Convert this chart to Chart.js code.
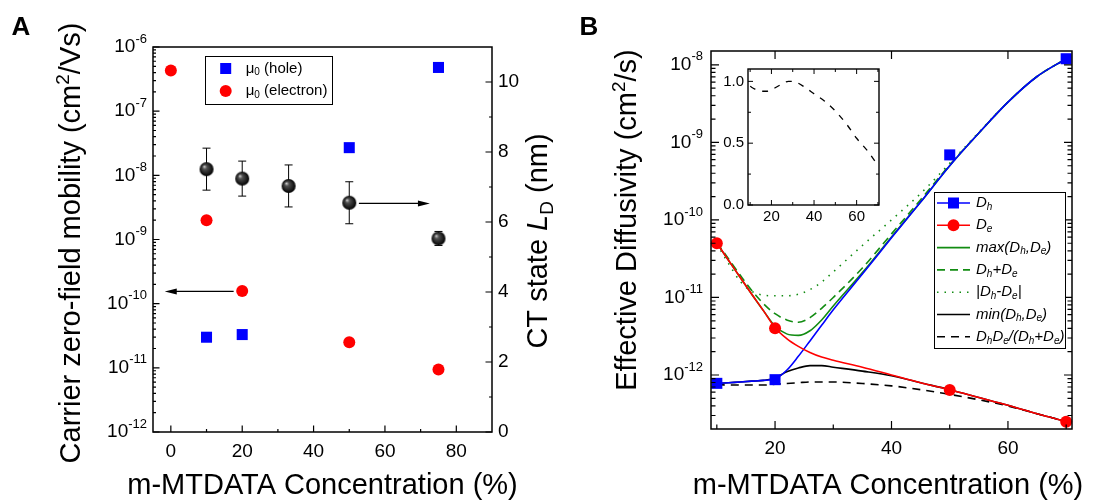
<!DOCTYPE html>
<html>
<head>
<meta charset="utf-8">
<script src="https://cdn.jsdelivr.net/npm/chart.js"></script>
<style>
  body { margin: 0; background: #fff; }
  #wrap { position: relative; width: 1098px; height: 500px; }
  canvas { position: absolute; }
</style>
</head>
<body>
<div id="wrap">
  <canvas id="chartA" width="580" height="500" style="left:0;top:0"></canvas>
  <canvas id="chartB" width="549" height="500" style="left:549px;top:0"></canvas>
  <canvas id="inset" width="220" height="185" style="left:690px;top:58px"></canvas>
</div>
<script>
// panel A: zero-field mobilities (left axis) and CT state size (right axis)
const concHole = [10, 20, 50, 75];
const muHole = [3.0e-11, 3.3e-11, 2.7e-8, 4.8e-7];
const concElec = [0, 10, 20, 50, 75];
const muElec = [4.3e-7, 2.0e-9, 1.58e-10, 2.5e-11, 9.4e-12];
const concLD = [10, 20, 33, 50, 75];
const ctSize = [7.51, 7.24, 7.03, 6.55, 5.53];
const ctErr = [0.6, 0.5, 0.6, 0.6, 0.2];

// panel B: measured diffusivities and the curves built from them
const concMeas = [10, 20, 50, 70];
const dHole = [7.8e-13, 8.7e-13, 6.9e-10, 1.2e-8];
const dElec = [5.0e-11, 4.0e-12, 6.4e-13, 2.5e-13];
const concFit = [10, 12, 14, 16, 18, 20, 22, 24, 26, 28, 30, 35, 40, 45, 50, 55, 60, 65, 70];
const fitHole = [7.76e-13, 7.94e-13, 8.13e-13, 8.32e-13, 8.51e-13, 8.91e-13, 1.15e-12, 1.74e-12, 2.75e-12, 4.37e-12,
  6.92e-12, 2.00e-11, 5.89e-11, 1.70e-10, 5.01e-10, 1.32e-9, 3.31e-9, 7.08e-9, 1.20e-8];
const fitElec = [5.01e-11, 3.02e-11, 1.82e-11, 1.10e-11, 6.76e-12, 4.07e-12, 2.95e-12, 2.34e-12, 1.95e-12, 1.70e-12,
  1.55e-12, 1.26e-12, 1.00e-12, 7.94e-13, 6.46e-13, 5.13e-13, 4.07e-13, 3.16e-13, 2.51e-13];
const fitMax = [5.01e-11, 3.02e-11, 1.82e-11, 1.10e-11, 6.76e-12, 4.27e-12, 3.39e-12, 3.24e-12, 3.72e-12, 5.13e-12,
  7.76e-12, 2.09e-11, 6.03e-11, 1.70e-10, 5.01e-10, 1.32e-9, 3.31e-9, 7.08e-9, 1.20e-8];
const fitSum = [5.13e-11, 3.16e-11, 1.95e-11, 1.23e-11, 8.32e-12, 6.17e-12, 5.13e-12, 4.79e-12, 5.50e-12, 7.24e-12,
  1.00e-11, 2.40e-11, 6.61e-11, 1.82e-10, 5.13e-10, 1.32e-9, 3.31e-9, 7.08e-9, 1.20e-8];
const fitDiff = [4.90e-11, 2.75e-11, 1.62e-11, 1.20e-11, 1.07e-11, 1.05e-11, 1.05e-11, 1.10e-11, 1.26e-11, 1.58e-11,
  2.14e-11, 4.68e-11, 1.00e-10, 2.19e-10, 5.37e-10, 1.35e-9, 3.31e-9, 7.08e-9, 1.20e-8];
const fitMin = [7.76e-13, 7.94e-13, 8.13e-13, 8.32e-13, 8.51e-13, 9.12e-13, 1.10e-12, 1.23e-12, 1.32e-12, 1.32e-12,
  1.26e-12, 1.12e-12, 9.77e-13, 7.94e-13, 6.46e-13, 5.13e-13, 4.07e-13, 3.16e-13, 2.51e-13];
const fitHarm = [7.59e-13, 7.41e-13, 7.41e-13, 7.41e-13, 7.41e-13, 7.59e-13, 7.76e-13, 7.94e-13, 8.13e-13, 8.13e-13,
  8.13e-13, 7.76e-13, 7.24e-13, 6.46e-13, 5.62e-13, 4.79e-13, 3.98e-13, 3.16e-13, 2.51e-13];

// inset: harmonic combination relative to the slower carrier
const concRatio = [10, 12, 14, 16, 18, 20, 22, 24, 26, 28, 30, 32, 35, 40, 45, 50, 55, 60, 65, 70];
const ratio = [0.96, 0.94, 0.93, 0.92, 0.92, 0.93, 0.95, 0.97, 0.99, 1.0, 1.0, 0.99, 0.96, 0.9, 0.84, 0.76, 0.66, 0.54, 0.44, 0.32];

const FONT = "'Liberation Sans', Arial, sans-serif";
const GREEN = '#128c12';

function font(size, italic, bold) {
  return (italic ? 'italic ' : '') + (bold ? 'bold ' : '') + size + 'px ' + FONT;
}

// runs: [text, size, italic, shift]
function drawRuns(ctx, runs, x, y, align, rot, baseline) {
  ctx.save();
  ctx.translate(x, y);
  if (rot) ctx.rotate(rot);
  ctx.textAlign = 'left';
  ctx.textBaseline = baseline || 'alphabetic';
  ctx.fillStyle = '#000';
  let w = 0;
  for (const r of runs) { ctx.font = font(r[1], r[2]); w += ctx.measureText(r[0]).width; }
  let cx = align === 'center' ? -w / 2 : align === 'right' ? -w : 0;
  for (const r of runs) {
    ctx.font = font(r[1], r[2]);
    ctx.fillText(r[0], cx, r[3] || 0);
    cx += ctx.measureText(r[0]).width;
  }
  ctx.restore();
}

function ticks(ctx, a, side, pixels, len) {
  ctx.beginPath();
  for (const p of pixels) {
    if (side === 'left') { ctx.moveTo(a.left, p); ctx.lineTo(a.left + len, p); }
    else if (side === 'right') { ctx.moveTo(a.right, p); ctx.lineTo(a.right - len, p); }
    else if (side === 'bottom') { ctx.moveTo(p, a.bottom); ctx.lineTo(p, a.bottom - len); }
    else { ctx.moveTo(p, a.top); ctx.lineTo(p, a.top + len); }
  }
  ctx.stroke();
}

function logMinors(lo, hi) {
  const out = [];
  for (let k = Math.floor(Math.log10(lo)); k <= Math.ceil(Math.log10(hi)); k++) {
    for (let m = 2; m <= 9; m++) {
      const v = m * Math.pow(10, k);
      if (v > lo && v < hi) out.push(v);
    }
  }
  return out;
}

function arrow(ctx, x1, y1, x2, y2) {
  const ang = Math.atan2(y2 - y1, x2 - x1);
  ctx.beginPath();
  ctx.moveTo(x1, y1);
  ctx.lineTo(x2 - 8 * Math.cos(ang), y2 - 8 * Math.sin(ang));
  ctx.stroke();
  ctx.save();
  ctx.translate(x2, y2);
  ctx.rotate(ang);
  ctx.beginPath();
  ctx.moveTo(0, 0);
  ctx.lineTo(-12, -3);
  ctx.lineTo(-12, 3);
  ctx.closePath();
  ctx.fill();
  ctx.restore();
}

function pts(xs, ys) {
  return xs.map((x, i) => ({ x: x, y: ys[i] }));
}

function makeSphere(r) {
  const c = document.createElement('canvas');
  c.width = c.height = 2 * r + 2;
  const g = c.getContext('2d');
  const m = r + 1;
  const grad = g.createRadialGradient(m - r * 0.35, m - r * 0.4, 0, m, m, r);
  grad.addColorStop(0, '#e0e0e0');
  grad.addColorStop(0.3, '#505050');
  grad.addColorStop(1, '#000');
  g.fillStyle = grad;
  g.beginPath();
  g.arc(m, m, r, 0, 2 * Math.PI);
  g.fill();
  return c;
}

const panelA = {
  id: 'panelA',
  beforeDatasetsDraw(chart) {
    const { ctx, scales: { x, y2 } } = chart;
    ctx.save();
    ctx.strokeStyle = '#000';
    ctx.lineWidth = 1;
    concLD.forEach((c, i) => {
      const px = x.getPixelForValue(c);
      const top = y2.getPixelForValue(ctSize[i] + ctErr[i]);
      const bot = y2.getPixelForValue(ctSize[i] - ctErr[i]);
      ctx.beginPath();
      ctx.moveTo(px, top); ctx.lineTo(px, bot);
      ctx.moveTo(px - 4, top); ctx.lineTo(px + 4, top);
      ctx.moveTo(px - 4, bot); ctx.lineTo(px + 4, bot);
      ctx.stroke();
    });
    ctx.restore();
  },
  afterDraw(chart) {
    const { ctx, chartArea: a, scales: { x, y, y2 } } = chart;
    ctx.save();
    ctx.strokeStyle = '#000';
    ctx.fillStyle = '#000';

    // arrows pointing to the axis each set belongs to
    ctx.lineWidth = 1.2;
    arrow(ctx, x.getPixelForValue(17.6), y.getPixelForValue(1.55e-10), x.getPixelForValue(-1.7), y.getPixelForValue(1.55e-10));
    arrow(ctx, x.getPixelForValue(52.7), y2.getPixelForValue(6.53), x.getPixelForValue(72.6), y2.getPixelForValue(6.53));

    ctx.lineWidth = 1.5;
    ctx.strokeRect(a.left, a.top, a.right - a.left, a.bottom - a.top);

    ctx.lineWidth = 1.2;
    const decades = [-12, -11, -10, -9, -8, -7, -6];
    ticks(ctx, a, 'left', decades.map(k => y.getPixelForValue(Math.pow(10, k))), 6.5);
    ticks(ctx, a, 'left', logMinors(1e-12, 1e-6).map(v => y.getPixelForValue(v)), 3);
    ticks(ctx, a, 'right', [0, 2, 4, 6, 8, 10].map(v => y2.getPixelForValue(v)), 6.5);
    ticks(ctx, a, 'right', [1, 3, 5, 7, 9].map(v => y2.getPixelForValue(v)), 3);
    ticks(ctx, a, 'bottom', [0, 20, 40, 60, 80].map(v => x.getPixelForValue(v)), 6.5);
    ticks(ctx, a, 'bottom', [10, 30, 50, 70].map(v => x.getPixelForValue(v)), 3);

    decades.forEach(k => {
      drawRuns(ctx, [['10', 19], ['-' + (-k), 13, false, -8]], a.left - 6, y.getPixelForValue(Math.pow(10, k)), 'right', 0, 'middle');
    });
    [0, 2, 4, 6, 8, 10].forEach(v => {
      drawRuns(ctx, [[String(v), 19]], a.right + 6, y2.getPixelForValue(v), 'left', 0, 'middle');
    });
    [0, 20, 40, 60, 80].forEach(v => {
      drawRuns(ctx, [[String(v), 19]], x.getPixelForValue(v), a.bottom + 25, 'center');
    });

    // axis titles
    drawRuns(ctx, [['Carrier zero-field mobility (cm', 29], ['2', 19, false, -11], ['/Vs)', 29]], 80, 243, 'center', -Math.PI / 2);
    drawRuns(ctx, [['CT state ', 29], ['L', 29, true], ['D', 19, false, 6], [' (nm)', 29]], 547, 241, 'center', -Math.PI / 2);
    drawRuns(ctx, [['m-MTDATA Concentration (%)', 29]], (a.left + a.right) / 2, 494, 'center');

    ctx.font = font(26, false, true);
    ctx.textAlign = 'center';
    ctx.textBaseline = 'alphabetic';
    ctx.fillText('A', 21, 35);

    // legend
    ctx.lineWidth = 1;
    ctx.strokeRect(205.5, 56.5, 127, 48);
    ctx.fillStyle = '#0000ff';
    ctx.fillRect(220.2, 63, 11, 11);
    ctx.fillStyle = '#ff0000';
    ctx.beginPath();
    ctx.arc(225.7, 91, 6, 0, 2 * Math.PI);
    ctx.fill();
    drawRuns(ctx, [['\u03bc', 15], ['0', 10, false, 4], [' (hole)', 15]], 245.7, 68.5, 'left', 0, 'middle');
    drawRuns(ctx, [['\u03bc', 15], ['0', 10, false, 4], [' (electron)', 15]], 245.7, 91, 'left', 0, 'middle');
    ctx.restore();
  }
};

new Chart(document.getElementById('chartA'), {
  type: 'scatter',
  data: {
    datasets: [
      { label: 'hole', data: pts(concHole, muHole), yAxisID: 'y', pointStyle: 'rect', pointRadius: 7.8,
        backgroundColor: '#0000ff', borderWidth: 0 },
      { label: 'electron', data: pts(concElec, muElec), yAxisID: 'y', pointStyle: 'circle', pointRadius: 6,
        backgroundColor: '#ff0000', borderWidth: 0 },
      { label: 'CT state', data: pts(concLD, ctSize), yAxisID: 'y2', pointStyle: makeSphere(7), pointRadius: 7 }
    ]
  },
  options: {
    responsive: false,
    animation: false,
    layout: { padding: { left: 153, top: 47, right: 88, bottom: 68 } },
    plugins: { legend: { display: false }, tooltip: { enabled: false } },
    scales: {
      x: { type: 'linear', min: -5, max: 90, display: false },
      y: { type: 'logarithmic', min: 1e-12, max: 1e-6, display: false },
      y2: { type: 'linear', position: 'right', min: 0, max: 11, display: false }
    }
  },
  plugins: [panelA]
});

const legendB = [
  { runs: [['D', 15, true], ['h', 10, true, 4]], color: '#0000ff', dash: [], marker: 'rect' },
  { runs: [['D', 15, true], ['e', 10, true, 4]], color: '#ff0000', dash: [], marker: 'circle' },
  { runs: [['max(D', 15, true], ['h', 10, true, 4], [',D', 15, true], ['e', 10, true, 4], [')', 15, true]], color: GREEN, dash: [] },
  { runs: [['D', 15, true], ['h', 10, true, 4], ['+D', 15, true], ['e', 10, true, 4]], color: GREEN, dash: [8, 5] },
  { runs: [['|D', 15, true], ['h', 10, true, 4], ['-D', 15, true], ['e', 10, true, 4], ['|', 15, true]], color: GREEN, dash: [1.5, 6] },
  { runs: [['min(D', 15, true], ['h', 10, true, 4], [',D', 15, true], ['e', 10, true, 4], [')', 15, true]], color: '#000', dash: [] },
  { runs: [['D', 15, true], ['h', 10, true, 4], ['D', 15, true], ['e', 10, true, 4], ['/(D', 15, true], ['h', 10, true, 4],
    ['+D', 15, true], ['e', 10, true, 4], [')', 15, true]], color: '#000', dash: [8, 6] }
];

const panelB = {
  id: 'panelB',
  afterDraw(chart) {
    const { ctx, chartArea: a, scales: { x, y } } = chart;
    ctx.save();
    ctx.strokeStyle = '#000';
    ctx.fillStyle = '#000';
    ctx.lineWidth = 1.5;
    ctx.strokeRect(a.left, a.top, a.right - a.left, a.bottom - a.top);

    ctx.lineWidth = 1.2;
    const decades = [-12, -11, -10, -9, -8];
    const major = decades.map(k => y.getPixelForValue(Math.pow(10, k)));
    const minor = logMinors(y.min, y.max).map(v => y.getPixelForValue(v));
    ticks(ctx, a, 'left', major, 8);
    ticks(ctx, a, 'left', minor, 4.5);
    ticks(ctx, a, 'right', major, 8);
    ticks(ctx, a, 'right', minor, 4.5);
    ticks(ctx, a, 'bottom', [20, 40, 60].map(v => x.getPixelForValue(v)), 8);
    ticks(ctx, a, 'bottom', [10, 30, 50, 70].map(v => x.getPixelForValue(v)), 4.5);
    ticks(ctx, a, 'top', [20, 40, 60].map(v => x.getPixelForValue(v)), 8);

    decades.forEach(k => {
      drawRuns(ctx, [['10', 19], ['-' + (-k), 13, false, -8]], a.left - 8, y.getPixelForValue(Math.pow(10, k)), 'right', 0, 'middle');
    });
    [20, 40, 60].forEach(v => {
      drawRuns(ctx, [[String(v), 19]], x.getPixelForValue(v), a.bottom + 25, 'center');
    });

    drawRuns(ctx, [['Effective Diffusivity (cm', 29], ['2', 19, false, -11], ['/s)', 29]], 87, 220, 'center', -Math.PI / 2);
    drawRuns(ctx, [['m-MTDATA Concentration (%)', 29]], 339, 494, 'center');

    ctx.font = font(26, false, true);
    ctx.textAlign = 'center';
    ctx.fillText('B', 40, 35);

    // legend
    const lx = 934 - 549, top = 192, rowH = 22.3;
    ctx.fillStyle = '#fff';
    ctx.fillRect(lx, top, 132, 156);
    ctx.lineWidth = 1;
    ctx.strokeStyle = '#000';
    ctx.strokeRect(lx + 0.5, top + 0.5, 131, 156);
    legendB.forEach((e, i) => {
      const ry = top + 11 + i * rowH;
      ctx.strokeStyle = e.color;
      ctx.lineWidth = 1.6;
      ctx.setLineDash(e.dash);
      ctx.beginPath();
      ctx.moveTo(lx + 3, ry);
      ctx.lineTo(lx + 36, ry);
      ctx.stroke();
      ctx.setLineDash([]);
      ctx.fillStyle = e.color;
      if (e.marker === 'rect') ctx.fillRect(lx + 14, ry - 5.5, 11, 11);
      if (e.marker === 'circle') { ctx.beginPath(); ctx.arc(lx + 19.5, ry, 6, 0, 2 * Math.PI); ctx.fill(); }
      drawRuns(ctx, e.runs, lx + 42, ry, 'left', 0, 'middle');
    });
    ctx.restore();
  }
};

const curve = (ys, color, dash) => ({
  data: pts(concFit, ys), showLine: true, borderColor: color, borderWidth: 1.6, borderDash: dash,
  pointRadius: 0, cubicInterpolationMode: 'monotone', fill: false
});

new Chart(document.getElementById('chartB'), {
  type: 'scatter',
  data: {
    datasets: [
      { label: 'Dh points', data: pts(concMeas, dHole), pointStyle: 'rect', pointRadius: 7.8,
        backgroundColor: '#0000ff', borderWidth: 0, clip: false },
      { label: 'De points', data: pts(concMeas, dElec), pointStyle: 'circle', pointRadius: 6,
        backgroundColor: '#ff0000', borderWidth: 0, clip: false },
      curve(fitElec, '#ff0000', []),
      curve(fitHole, '#0000ff', []),
      curve(fitMax, GREEN, []),
      curve(fitSum, GREEN, [8, 5]),
      curve(fitDiff, GREEN, [1.5, 6]),
      curve(fitMin, '#000', []),
      curve(fitHarm, '#000', [8, 6])
    ]
  },
  options: {
    responsive: false,
    animation: false,
    layout: { padding: { left: 162, top: 51, right: 26, bottom: 71 } },
    plugins: { legend: { display: false }, tooltip: { enabled: false } },
    scales: {
      x: { type: 'linear', min: 9, max: 71, display: false },
      y: { type: 'logarithmic', min: 2.01e-13, max: 1.51e-8, display: false }
    }
  },
  plugins: [panelB]
});

const insetFrame = {
  id: 'insetFrame',
  afterDraw(chart) {
    const { ctx, chartArea: a, scales: { x, y } } = chart;
    ctx.save();
    ctx.strokeStyle = '#000';
    ctx.lineWidth = 1.4;
    ctx.strokeRect(a.left, a.top, a.right - a.left, a.bottom - a.top);
    ctx.lineWidth = 1;
    const ym = [0, 0.5, 1.0].map(v => y.getPixelForValue(v));
    const yn = [0.25, 0.75].map(v => y.getPixelForValue(v));
    const xm = [20, 40, 60].map(v => x.getPixelForValue(v));
    const xn = [10, 30, 50, 70].map(v => x.getPixelForValue(v));
    ['left', 'right'].forEach(s => { ticks(ctx, a, s, ym, 5); ticks(ctx, a, s, yn, 3); });
    ['bottom', 'top'].forEach(s => { ticks(ctx, a, s, xm, 5); ticks(ctx, a, s, xn, 3); });
    [0, 0.5, 1.0].forEach(v => {
      drawRuns(ctx, [[v.toFixed(1), 15]], a.left - 4, y.getPixelForValue(v), 'right', 0, 'middle');
    });
    [20, 40, 60].forEach(v => {
      drawRuns(ctx, [[String(v), 15]], x.getPixelForValue(v), a.bottom + 16, 'center');
    });
    ctx.restore();
  }
};

new Chart(document.getElementById('inset'), {
  type: 'scatter',
  data: {
    datasets: [
      { label: 'ratio', data: pts(concRatio, ratio), showLine: true, borderColor: '#000', borderWidth: 1.3,
        borderDash: [6, 7], pointRadius: 0, cubicInterpolationMode: 'monotone', fill: false }
    ]
  },
  options: {
    responsive: false,
    animation: false,
    layout: { padding: { left: 58, top: 11, right: 31, bottom: 38 } },
    plugins: { legend: { display: false }, tooltip: { enabled: false } },
    scales: {
      x: { type: 'linear', min: 9, max: 70.5, display: false },
      y: { type: 'linear', min: 0, max: 1.1, display: false }
    }
  },
  plugins: [insetFrame]
});
</script>
</body>
</html>
